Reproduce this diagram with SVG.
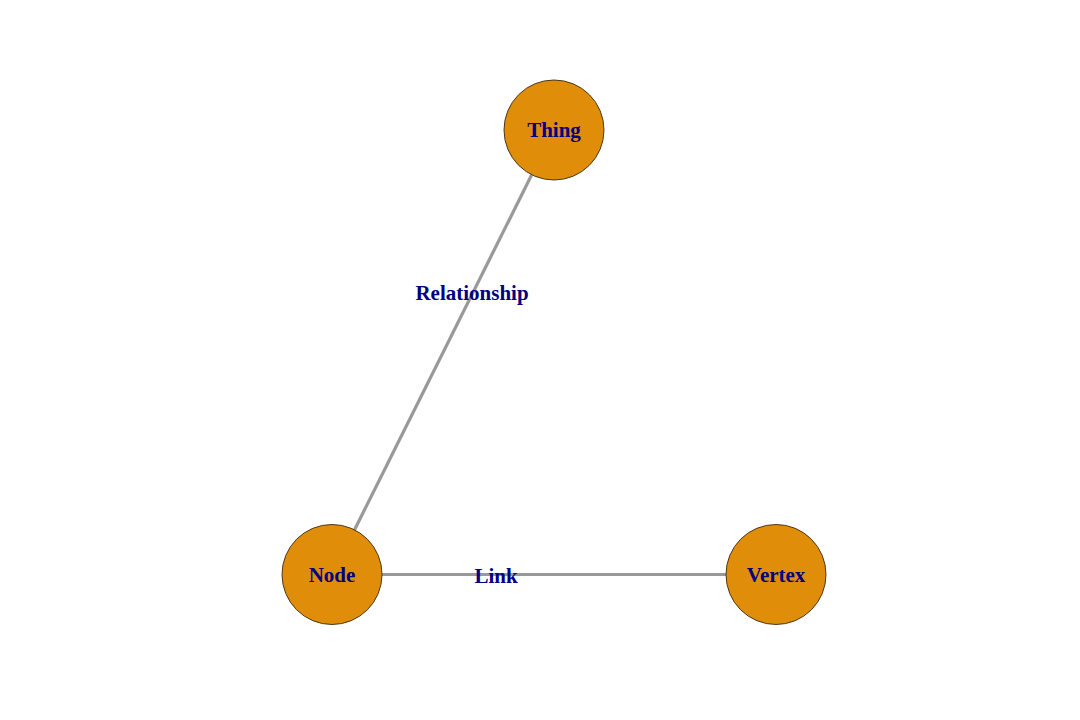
<svg xmlns="http://www.w3.org/2000/svg" width="1080" height="720" viewBox="0 0 1080 720">
<style>
.edge{stroke:#999999;stroke-width:3.2;fill:none}
.node circle{fill:#E08E0A;stroke:#3a2a10;stroke-width:0.9}
.lbl{font-family:"Liberation Serif","Times New Roman",serif;font-weight:bold;font-size:21px;fill:#000080;text-anchor:middle}
</style>
<rect width="1080" height="720" fill="#ffffff"/>
<g id="connectors">
<line class="edge" x1="531.7" y1="174.8" x2="354.3" y2="530.3"/>
<line class="edge" x1="382" y1="574.5" x2="726" y2="574.5"/>
<text class="lbl" x="472" y="299.5">Relationship</text>
<text class="lbl" x="496" y="582.5">Link</text>
</g>
<g id="node-thing" class="node">
<circle cx="554" cy="130" r="50"/>
<text class="lbl" x="554" y="136.7">Thing</text>
</g>
<g id="node-node" class="node">
<circle cx="332" cy="574.5" r="50"/>
<text class="lbl" x="332" y="581.7">Node</text>
</g>
<g id="node-vertex" class="node">
<circle cx="776" cy="574.5" r="50"/>
<text class="lbl" x="776" y="581.7">Vertex</text>
</g>
</svg>
